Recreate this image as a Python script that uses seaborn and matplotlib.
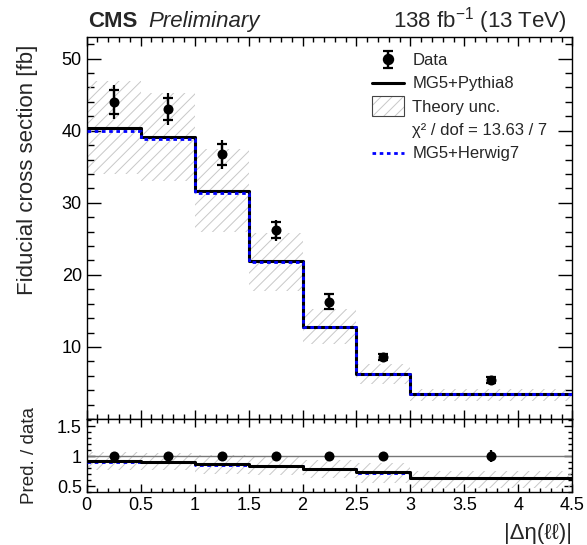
import numpy as np
import pandas as pd
import matplotlib
matplotlib.use("Agg")
import matplotlib.pyplot as plt
import seaborn as sns
from matplotlib.lines import Line2D
from matplotlib.patches import Patch, Rectangle
from matplotlib.legend_handler import HandlerTuple, HandlerPatch
from matplotlib.ticker import MultipleLocator, FixedLocator, FixedFormatter

# ---------------- data ----------------
bin_edges = [0.0, 0.5, 1.0, 1.5, 2.0, 2.5, 3.0, 4.5]
bin_centers = [0.25, 0.75, 1.25, 1.75, 2.25, 2.75, 3.75]
data_vals = [44.0, 43.0, 36.7, 26.2, 16.3, 8.6, 5.4]
data_stat = [1.65, 1.55, 1.45, 1.1, 1.0, 0.45, 0.4]
data_tot = [2.35, 2.25, 2.0, 1.45, 1.0, 0.45, 0.55]
pythia_vals = [40.4, 39.1, 31.7, 21.9, 12.8, 6.3, 3.45]
herwig_vals = [40.0, 38.8, 31.3, 21.8, 12.75, 6.2, 3.4]
theory_low = [34.0, 33.0, 26.0, 17.8, 10.4, 4.8, 2.5]
theory_high = [46.9, 45.2, 37.4, 25.8, 15.3, 7.6, 4.1]
chi2_label = "χ² / dof = 13.63 / 7"

sns.set_theme(style="ticks")
plt.rcParams["font.family"] = ["Liberation Sans", "DejaVu Sans"]
plt.rcParams["mathtext.fontset"] = "custom"
plt.rcParams["mathtext.rm"] = "Liberation Sans"
plt.rcParams["mathtext.it"] = "Liberation Sans:italic"
plt.rcParams["hatch.linewidth"] = 0.7
plt.rcParams["axes.edgecolor"] = "black"
plt.rcParams["axes.linewidth"] = 1.0

fig = plt.figure(figsize=(5.87, 5.45), dpi=100)
L, W = 86.7 / 587, (572.3 - 86.7) / 587
ax1 = fig.add_axes([L, 1 - 419 / 545, W, (419 - 37) / 545])
ax2 = fig.add_axes([L, 1 - 492 / 545, W, (492 - 419) / 545])

edges = np.array(bin_edges)
dv = np.array(data_vals)


def ext(v):
    v = list(v)
    return v + [v[-1]]


hatch_col = "#c8c8c8"
HATCH = "///"

# ---------------- main panel ----------------
ax1.fill_between(edges, ext(theory_low), ext(theory_high), step="post",
                 facecolor="none", edgecolor=hatch_col, linewidth=0,
                 hatch=HATCH, zorder=1)
df_p = pd.DataFrame({"x": edges, "y": ext(pythia_vals)})
df_h = pd.DataFrame({"x": edges, "y": ext(herwig_vals)})
sns.lineplot(data=df_p, x="x", y="y", ax=ax1, color="black", lw=2.2,
             drawstyle="steps-post", estimator=None, zorder=3)
sns.lineplot(data=df_h, x="x", y="y", ax=ax1, color="#0000ff", lw=2.0,
             linestyle=(0, (1.3, 1.3)), drawstyle="steps-post",
             estimator=None, zorder=4)
eb_tot = ax1.errorbar(bin_centers, data_vals, yerr=data_tot, fmt="none",
                      ecolor="black", elinewidth=1.6, capsize=0, zorder=5)
eb_stat = ax1.errorbar(bin_centers, data_vals, yerr=data_stat, fmt="none",
                       ecolor="black", elinewidth=1.6, capsize=3.8,
                       capthick=1.6, zorder=5)
sns.scatterplot(x=bin_centers, y=data_vals, ax=ax1, color="black", s=52,
                marker="o", edgecolor="black", linewidth=0, zorder=6)

ax1.set_xlim(0, 4.5)
ax1.set_ylim(0, 53)
ax1.yaxis.set_major_locator(FixedLocator([10, 20, 30, 40, 50]))
ax1.yaxis.set_minor_locator(MultipleLocator(2))
ax1.xaxis.set_major_locator(MultipleLocator(0.5))
ax1.xaxis.set_minor_locator(MultipleLocator(0.1))
ax1.tick_params(axis="x", which="both", labelbottom=False)
ax1.set_xlabel("")
ax1.set_ylabel("Fiducial cross section [fb]", fontsize=16, ha="right")
ax1.yaxis.set_label_coords(-0.1, 0.98)


# legend
def tall_box(legend, orig_handle, xdescent, ydescent, width, height, fontsize):
    return Rectangle((-xdescent, -ydescent - 3), width, height + 6)


data_handle = (eb_tot, eb_stat,
               Line2D([], [], color="black", marker="o", ms=7.2, lw=0))
theory_handle = (Patch(facecolor="white", edgecolor=hatch_col, hatch=HATCH, lw=0),
                 Patch(facecolor="none", edgecolor="#444444", lw=0.8))
handles = [data_handle,
           Line2D([], [], color="black", lw=2.2),
           theory_handle,
           Line2D([], [], color="none", lw=0),
           Line2D([], [], color="#0000ff", lw=2.0, linestyle=(0, (1.3, 1.3)))]
labels = ["Data", "MG5+Pythia8", "Theory unc.", chi2_label, "MG5+Herwig7"]
ax1.legend(handles, labels, loc="upper left", bbox_to_anchor=(0.588, 0.958),
           frameon=False, fontsize=12, handlelength=1.9, handletextpad=0.5,
           labelspacing=0.5, borderpad=0, borderaxespad=0,
           handler_map={tuple: HandlerTuple(ndivide=1, pad=0),
                        Patch: HandlerPatch(patch_func=tall_box)})

# ---------------- ratio panel ----------------
r_p = list(np.array(pythia_vals) / dv)
r_h = list(np.array(herwig_vals) / dv)
r_lo = list(np.array(theory_low) / dv)
r_hi = list(np.array(theory_high) / dv)
r_err = list(np.array(data_tot) / dv)

ax2.axhline(1.0, color="#777777", lw=1.0, zorder=2)
ax2.fill_between(edges, ext(r_lo), ext(r_hi), step="post",
                 facecolor="none", edgecolor=hatch_col, linewidth=0,
                 hatch=HATCH, zorder=1)
sns.lineplot(x=edges, y=ext(r_h), ax=ax2, color="#0000ff", lw=2.0,
             linestyle=(0, (1.3, 1.3)), drawstyle="steps-post",
             estimator=None, zorder=3)
sns.lineplot(x=edges, y=ext(r_p), ax=ax2, color="black", lw=2.2,
             drawstyle="steps-post", estimator=None, zorder=4)
ax2.errorbar(bin_centers, [1.0] * len(bin_centers), yerr=r_err, fmt="none",
             ecolor="black", elinewidth=1.6, capsize=0, zorder=5)
sns.scatterplot(x=bin_centers, y=[1.0] * len(bin_centers), ax=ax2,
                color="black", s=52, marker="o", linewidth=0, zorder=6)

ax2.set_xlim(0, 4.5)
ax2.set_ylim(0.4, 1.62)
ax2.yaxis.set_major_locator(FixedLocator([0.5, 1.0, 1.5]))
ax2.yaxis.set_major_formatter(FixedFormatter(["0.5", "1", "1.5"]))
ax2.yaxis.set_minor_locator(MultipleLocator(0.1))
ax2.xaxis.set_major_locator(MultipleLocator(0.5))
ax2.xaxis.set_minor_locator(MultipleLocator(0.1))
ax2.xaxis.set_major_formatter(matplotlib.ticker.FuncFormatter(
    lambda v, p: f"{v:g}"))
ax2.set_ylabel("Pred. / data", fontsize=13.5)
ax2.yaxis.set_label_coords(-0.1, 0.5)
ax2.set_xlabel("|Δη(ℓℓ)|", fontsize=16, ha="right")
ax2.xaxis.set_label_coords(1.0, -0.42)

for ax, ymaj, ymin, xmaj, xmin in [(ax1, 10, 5, 6.5, 3.5), (ax2, 5.5, 3, 6, 3)]:
    ax.tick_params(axis="both", which="both", direction="in", top=True,
                   right=True, colors="black", labelsize=13, pad=3.5)
    ax.tick_params(axis="y", which="major", length=ymaj, width=1.0)
    ax.tick_params(axis="y", which="minor", length=ymin, width=1.0)
    ax.tick_params(axis="x", which="major", length=xmaj, width=1.0)
    ax.tick_params(axis="x", which="minor", length=xmin, width=1.0)
    for s in ax.spines.values():
        s.set_visible(True)
        s.set_color("black")
        s.set_linewidth(1.0)

# ---------------- header texts ----------------
fig.text(88 / 587, 1 - 27 / 545, "CMS", fontsize=16, fontweight="bold",
         va="baseline", ha="left")
fig.text(148 / 587, 1 - 27 / 545, "Preliminary", fontsize=16, style="italic",
         va="baseline", ha="left")
fig.text(567 / 587, 1 - 27 / 545, r"138 fb$^{-1}$ (13 TeV)", fontsize=16,
         va="baseline", ha="right")

fig.savefig("out.png", dpi=100)
